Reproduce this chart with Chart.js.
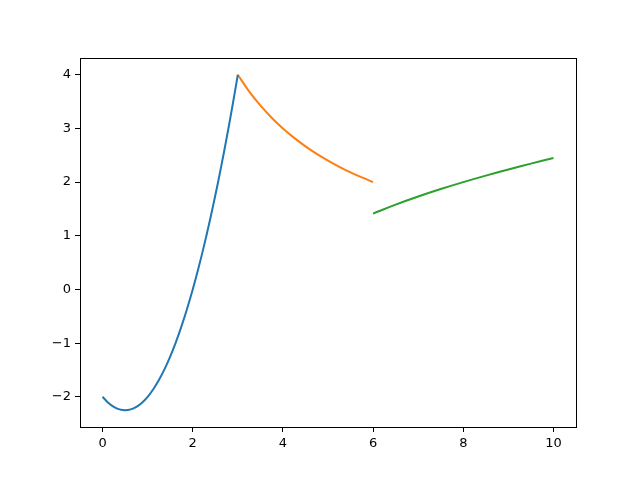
<!DOCTYPE html>
<html>
<head>
<meta charset="utf-8">
<script src="https://cdn.jsdelivr.net/npm/chart.js@4/dist/chart.umd.min.js"></script>
<style>
  html, body { margin: 0; padding: 0; background: #fff; }
  #wrap { width: 640px; height: 480px; }
</style>
</head>
<body>
<div id="wrap"><canvas id="grafik" width="640" height="480"></canvas></div>
<script>
// =================
// DATA
// =================
let biruX = [0, 0.125, 0.25, 0.375, 0.5, 0.625, 0.75, 0.875, 1, 1.125, 1.25, 1.375, 1.5,
    1.625, 1.75, 1.875, 2, 2.125, 2.25, 2.375, 2.5, 2.625, 2.75, 2.875, 3];
let biruY = [-2, -2.109, -2.187, -2.234, -2.25, -2.234, -2.187, -2.109, -2, -1.859, -1.687, -1.484, -1.25,
    -0.984, -0.687, -0.359, 0, 0.391, 0.812, 1.266, 1.75, 2.266, 2.812, 3.391, 4];

let oranyeX = [3, 3.25, 3.5, 3.75, 4, 4.25, 4.5, 4.75, 5, 5.25, 5.5, 5.75, 6];
let oranyeY = [4, 3.692, 3.429, 3.2, 3, 2.824, 2.667, 2.526, 2.4, 2.286, 2.182, 2.087, 2];

let hijauX = [6, 6.5, 7, 7.5, 8, 8.5, 9, 9.5, 10];
let hijauY = [1.414, 1.581, 1.732, 1.871, 2, 2.121, 2.236, 2.345, 2.449];

let tickX = [0, 2, 4, 6, 8, 10];
let tickY = [-2, -1, 0, 1, 2, 3, 4];

function gabung(xs, ys) {
    return xs.map((x, i) => ({ x: x, y: ys[i] }));
}

function labelMinus(v) {
    return String(v).replace("-", "\u2212");
}

// kotak bingkai sekeliling area plot
const bingkai = {
    id: "bingkai",
    afterDraw(chart) {
        let a = chart.chartArea;
        let ctx = chart.ctx;
        ctx.save();
        ctx.strokeStyle = "#000";
        ctx.lineWidth = 1;
        ctx.strokeRect(Math.round(a.left) + 0.5, Math.round(a.top) + 0.5,
            Math.round(a.right - a.left), Math.round(a.bottom - a.top));
        ctx.restore();
    }
};

function garis(data, warna) {
    return {
        data: data,
        borderColor: warna,
        backgroundColor: warna,
        borderWidth: 2,
        pointRadius: 0,
        tension: 0.4,
        fill: false
    };
}

new Chart(document.getElementById("grafik").getContext("2d"), {
    type: "line",
    data: {
        datasets: [
            garis(gabung(biruX, biruY), "#1f77b4"),
            garis(gabung(oranyeX, oranyeY), "#ff7f0e"),
            garis(gabung(hijauX, hijauY), "#2ca02c")
        ]
    },
    options: {
        responsive: false,
        animation: false,
        devicePixelRatio: 1,
        layout: { padding: { left: 0, right: 64, top: 58, bottom: 0 } },
        plugins: { legend: { display: false }, tooltip: { enabled: false } },
        scales: {
            x: {
                type: "linear",
                min: -0.5,
                max: 10.5,
                afterBuildTicks: s => { s.ticks = tickX.map(v => ({ value: v })); },
                afterFit: s => { s.height = 53; },
                grid: { display: true, drawOnChartArea: false, color: "#000", tickLength: 5 },
                border: { display: true, color: "#000" },
                ticks: {
                    color: "#000",
                    padding: 4,
                    maxRotation: 0,
                    font: { family: "DejaVu Sans", size: 13 },
                    callback: v => labelMinus(v)
                }
            },
            y: {
                type: "linear",
                min: -2.5625,
                max: 4.3125,
                afterBuildTicks: s => { s.ticks = tickY.map(v => ({ value: v })); },
                afterFit: s => { s.width = 80; },
                grid: { display: true, drawOnChartArea: false, color: "#000", tickLength: 5 },
                border: { display: true, color: "#000" },
                ticks: {
                    color: "#000",
                    padding: 4,
                    font: { family: "DejaVu Sans", size: 13 },
                    callback: v => labelMinus(v)
                }
            }
        }
    },
    plugins: [bingkai]
});
</script>
</body>
</html>
